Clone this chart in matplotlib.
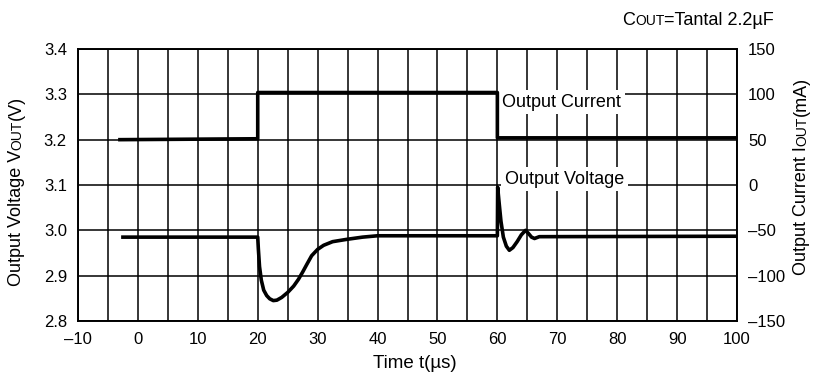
import matplotlib
matplotlib.use("Agg")
import matplotlib.pyplot as plt
from matplotlib.font_manager import FontProperties

FAM = "Liberation Sans"
plt.rcParams["font.family"] = [FAM, "DejaVu Sans"]

# output current (right axis, mA)
cur_t = [-3, 20, 20, 60, 60, 100]
cur_ma = [50, 51, 102, 102, 52, 52]

# output voltage (left axis, V)
volt_t = [-2.5, 20, 20.1, 20.3, 20.6, 21.0, 21.5, 22.0, 22.6, 23.2, 24.0, 25.0,
          26.0, 26.8, 27.5, 28.2, 29.0, 30.0, 31.0, 32.5, 34.8, 37.5, 40, 60,
          60.05, 60.3, 60.6, 61.0, 61.5, 62.0, 62.6, 63.3, 64.0, 64.7, 65.2, 65.7,
          66.2, 67.0, 100]
volt_v = [2.985, 2.985, 2.96, 2.92, 2.89, 2.868, 2.856, 2.849, 2.845, 2.846, 2.852, 2.863,
          2.877, 2.892, 2.908, 2.925, 2.944, 2.958, 2.967, 2.975, 2.980, 2.985, 2.988, 2.988,
          3.095, 3.06, 3.02, 2.985, 2.965, 2.956, 2.962, 2.975, 2.99, 3.0, 2.993, 2.985,
          2.982, 2.986, 2.987]

x_ticks = list(range(-10, 101, 10))
x_minor = list(range(-5, 100, 10))
v_ticks = [2.8, 2.9, 3.0, 3.1, 3.2, 3.3, 3.4]
i_ticks = [-150, -100, -50, 0, 50, 100, 150]

W, H = 814, 374
fig = plt.figure(figsize=(W / 100, H / 100), dpi=100)
ax = fig.add_axes([78 / W, 1 - 321 / H, (737 - 78) / W, 272 / H])
ax2 = ax.twinx()

ax.set_xlim(-10, 100)
ax.set_ylim(2.8, 3.4)
ax2.set_ylim(-150, 150)
ax.set_xticks(x_ticks)
ax.set_xticks(x_minor, minor=True)
ax.set_yticks(v_ticks)
ax.set_yticklabels(["%.1f" % v for v in v_ticks])
ax2.set_yticks(i_ticks)
ax2.set_yticklabels([str(i).replace("-", "\u2013") for i in i_ticks])
ax.set_xticklabels([str(x).replace("-", "\u2013") for x in x_ticks])

ax.grid(True, which="both", axis="x", color="black", lw=1.1)
ax.grid(True, which="major", axis="y", color="black", lw=1.1)
ax.set_axisbelow(True)
for a in (ax, ax2):
    a.tick_params(which="both", length=0, labelsize=12, pad=8)
    for s in a.spines.values():
        s.set_linewidth(1.2)

ax.plot(volt_t, volt_v, color="black", lw=2.6, zorder=3, solid_joinstyle="round")
ax2.plot(cur_t, cur_ma, color="black", lw=2.6, zorder=3)

box = dict(boxstyle="square,pad=0.2", fc="white", ec="none")
ax.text(70.7, 3.283, "Output Current", fontsize=13, ha="center", va="center", bbox=box, zorder=4)
ax.text(71.2, 3.113, "Output Voltage", fontsize=13, ha="center", va="center", bbox=box, zorder=4)


def rich_text(x, y, pieces, rotation=0, ha="left"):
    # x, y in pixels from the lower left corner; pieces = [(text, size)]
    r = fig.canvas.get_renderer()
    w = [r.get_text_width_height_descent(s, FontProperties(family=FAM, size=sz), ismath=False)[0]
         for s, sz in pieces]
    pos = -{"left": 0, "center": sum(w) / 2, "right": sum(w)}[ha]
    for (s, sz), wi in zip(pieces, w):
        px, py = (x + pos, y) if rotation == 0 else (x, y + pos)
        fig.text(px / W, py / H, s, fontsize=sz, rotation=rotation,
                 rotation_mode="anchor", ha="left", va="baseline")
        pos += wi


rich_text(774, H - 25, [("C", 13), ("OUT", 10), ("=Tantal 2.2\u00b5F", 13)], ha="right")
rich_text(21, H - 191, [("Output Voltage V", 13), ("OUT", 10), ("(V)", 13)], rotation=90, ha="center")
rich_text(806, H - 176, [("Output Current I", 13), ("OUT", 10), ("(mA)", 13)], rotation=90, ha="center")
fig.text(415 / W, 6 / H, "Time t(\u00b5s)", fontsize=13.5, ha="center", va="baseline")

fig.savefig("out.png", dpi=100)
